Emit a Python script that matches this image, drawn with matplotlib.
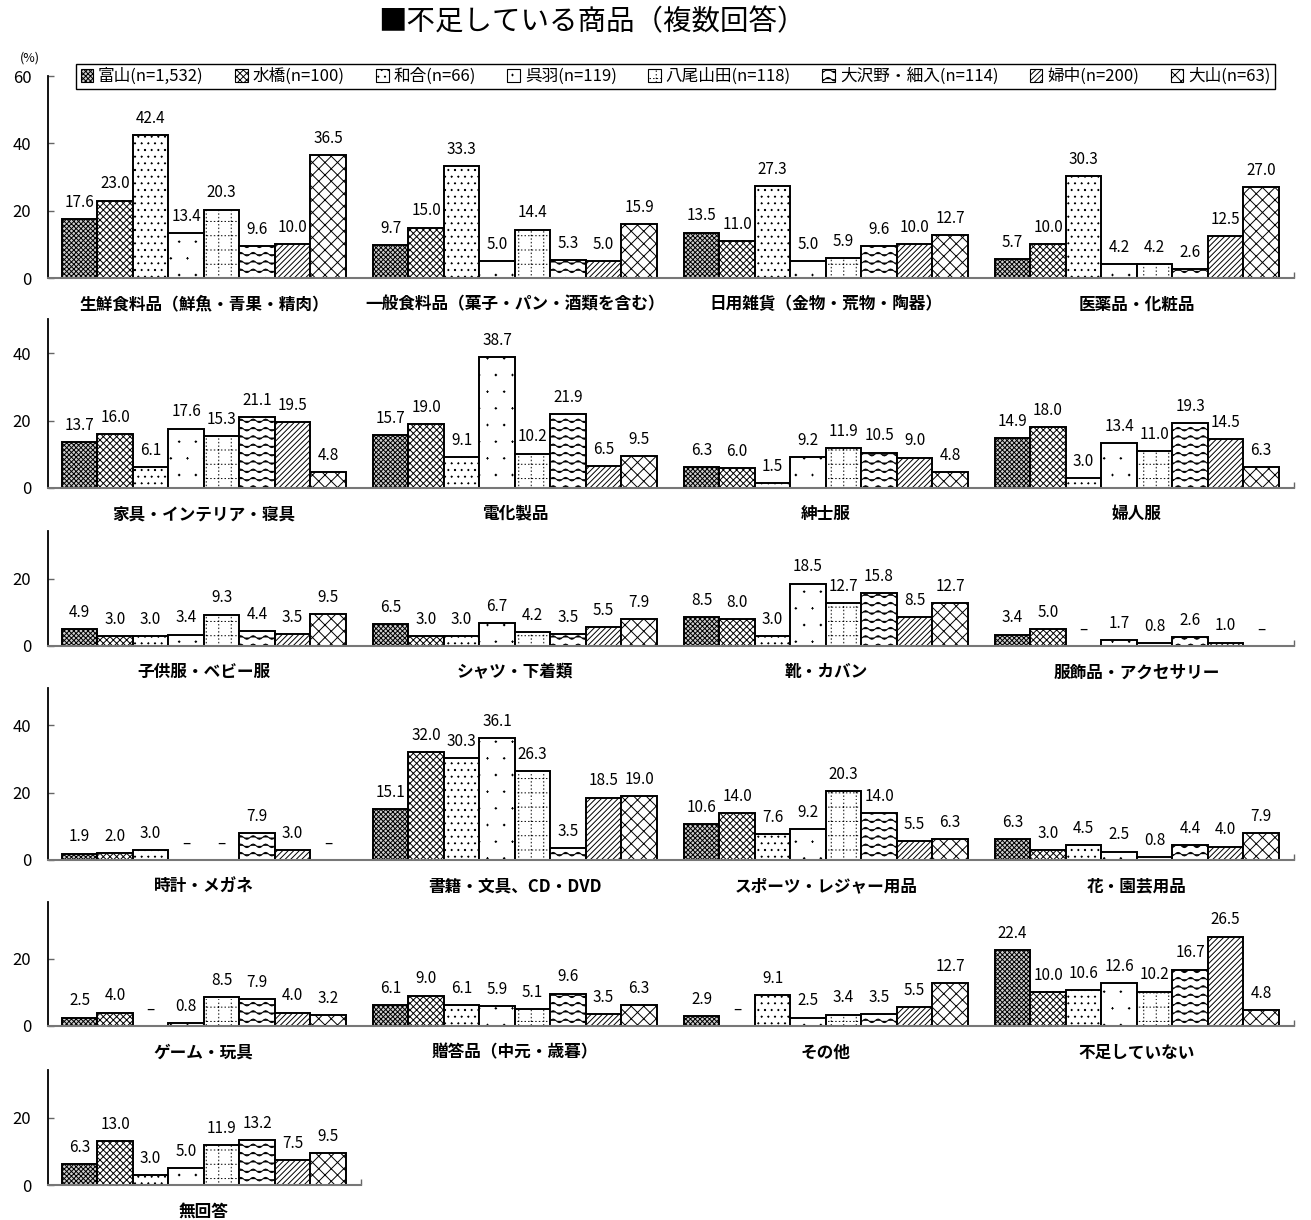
import warnings
import numpy as np
import matplotlib
matplotlib.use('Agg')
import matplotlib.pyplot as plt
import matplotlib.hatch as mhatch
from matplotlib.path import Path
from matplotlib.patches import Patch

warnings.filterwarnings('ignore')

plt.rcParams['font.family'] = ['Noto Sans CJK JP', 'DejaVu Sans']
plt.rcParams['hatch.linewidth'] = 0.7

# ---- data ----
areas = ['富山(n=1,532)', '水橋(n=100)', '和合(n=66)', '呉羽(n=119)',
         '八尾山田(n=118)', '大沢野・細入(n=114)', '婦中(n=200)', '大山(n=63)']

rows = [
    ['生鮮食料品（鮮魚・青果・精肉）', '一般食料品（菓子・パン・酒類を含む）',
     '日用雑貨（金物・荒物・陶器）', '医薬品・化粧品'],
    ['家具・インテリア・寝具', '電化製品', '紳士服', '婦人服'],
    ['子供服・ベビー服', 'シャツ・下着類', '靴・カバン', '服飾品・アクセサリー'],
    ['時計・メガネ', '書籍・文具、CD・DVD', 'スポーツ・レジャー用品', '花・園芸用品'],
    ['ゲーム・玩具', '贈答品（中元・歳暮）', 'その他', '不足していない'],
    ['無回答'],
]

values = {
    '生鮮食料品（鮮魚・青果・精肉）': [17.6, 23.0, 42.4, 13.4, 20.3, 9.6, 10.0, 36.5],
    '一般食料品（菓子・パン・酒類を含む）': [9.7, 15.0, 33.3, 5.0, 14.4, 5.3, 5.0, 15.9],
    '日用雑貨（金物・荒物・陶器）': [13.5, 11.0, 27.3, 5.0, 5.9, 9.6, 10.0, 12.7],
    '医薬品・化粧品': [5.7, 10.0, 30.3, 4.2, 4.2, 2.6, 12.5, 27.0],
    '家具・インテリア・寝具': [13.7, 16.0, 6.1, 17.6, 15.3, 21.1, 19.5, 4.8],
    '電化製品': [15.7, 19.0, 9.1, 38.7, 10.2, 21.9, 6.5, 9.5],
    '紳士服': [6.3, 6.0, 1.5, 9.2, 11.9, 10.5, 9.0, 4.8],
    '婦人服': [14.9, 18.0, 3.0, 13.4, 11.0, 19.3, 14.5, 6.3],
    '子供服・ベビー服': [4.9, 3.0, 3.0, 3.4, 9.3, 4.4, 3.5, 9.5],
    'シャツ・下着類': [6.5, 3.0, 3.0, 6.7, 4.2, 3.5, 5.5, 7.9],
    '靴・カバン': [8.5, 8.0, 3.0, 18.5, 12.7, 15.8, 8.5, 12.7],
    '服飾品・アクセサリー': [3.4, 5.0, None, 1.7, 0.8, 2.6, 1.0, None],
    '時計・メガネ': [1.9, 2.0, 3.0, None, None, 7.9, 3.0, None],
    '書籍・文具、CD・DVD': [15.1, 32.0, 30.3, 36.1, 26.3, 3.5, 18.5, 19.0],
    'スポーツ・レジャー用品': [10.6, 14.0, 7.6, 9.2, 20.3, 14.0, 5.5, 6.3],
    '花・園芸用品': [6.3, 3.0, 4.5, 2.5, 0.8, 4.4, 4.0, 7.9],
    'ゲーム・玩具': [2.5, 4.0, None, 0.8, 8.5, 7.9, 4.0, 3.2],
    '贈答品（中元・歳暮）': [6.1, 9.0, 6.1, 5.9, 5.1, 9.6, 3.5, 6.3],
    'その他': [2.9, None, 9.1, 2.5, 3.4, 3.5, 5.5, 12.7],
    '不足していない': [22.4, 10.0, 10.6, 12.6, 10.2, 16.7, 26.5, 4.8],
    '無回答': [6.3, 13.0, 3.0, 5.0, 11.9, 13.2, 7.5, 9.5],
}

row_ticks = [[0, 20, 40, 60], [0, 20, 40], [0, 20], [0, 20, 40], [0, 20], [0, 20]]


# ---- custom hatches: drawn in a unit tile (one inch) ----
def seg_path(segs):
    v, c = [], []
    for a, b in segs:
        v += [a, b]
        c += [Path.MOVETO, Path.LINETO]
    return np.array(v, float), np.array(c, dtype=Path.code_type)


def wave_lines():
    n, seg = 12, 64
    t = np.linspace(0, 1, seg + 1)
    v, c = [], []
    for i in range(n):
        y0 = (i + 0.5) / n
        v.append(np.column_stack([t, y0 + 0.018 * np.sin(2 * np.pi * 8 * t)]))
        cc = np.full(seg + 1, Path.LINETO, dtype=Path.code_type)
        cc[0] = Path.MOVETO
        c.append(cc)
    return np.vstack(v), np.concatenate(c)


def dotted_grid():
    nx, ny, dots = 8, 7, 28
    segs = []
    for i in range(nx):
        p = (i + 0.5) / nx
        segs += [([p, k / dots], [p, k / dots + 0.005]) for k in range(dots)]
    for i in range(ny):
        p = (i + 0.5) / ny
        segs += [([k / dots, p], [k / dots + 0.005, p]) for k in range(dots)]
    return seg_path(segs)


def dots(n, d=0.007):
    segs = []
    for i in range(n):
        y = (i + 0.5) / n
        off = 0.5 / n if i % 2 else 0.0
        for k in range(n):
            x = (k + 0.25) / n + off
            segs.append(([x - d, y], [x + d, y]))
            segs.append(([x, y - d], [x, y + d]))
    return seg_path(segs)


def open_cross():
    n = 16
    s = np.linspace(-0.5, 0.5, n + 1)
    segs = []
    for d in s:
        segs += [([d, -d], [1 + d, 1 - d]), ([d, 1 + d], [1 + d, d])]
    return seg_path(segs)


CUSTOM = {'w': wave_lines, 'g': dotted_grid, 'k': open_cross,
          'p': lambda: dots(6, 0.008), 'q': lambda: dots(15, 0.006)}


class CustomHatch(mhatch.HatchPatternBase):
    def __init__(self, hatch, density):
        parts = [CUSTOM[ch]() for ch in hatch if ch in CUSTOM]
        if parts:
            self.v = np.vstack([p[0] for p in parts])
            self.c = np.concatenate([p[1] for p in parts])
        else:
            self.v = np.empty((0, 2))
            self.c = np.empty(0, dtype=Path.code_type)
        self.num_vertices = len(self.v)

    def set_vertices_and_codes(self, vertices, codes):
        vertices[:] = self.v
        codes[:] = self.c


mhatch._hatch_types.append(CustomHatch)

styles = [
    dict(facecolor='#cfcfcf', hatch='xxxxxxx'),
    dict(facecolor='white', hatch='xxxxx'),
    dict(facecolor='white', hatch='q'),
    dict(facecolor='white', hatch='p'),
    dict(facecolor='white', hatch='g'),
    dict(facecolor='white', hatch='w'),
    dict(facecolor='white', hatch='//////'),
    dict(facecolor='white', hatch='k'),
]

# ---- layout (pixels) ----
W, H = 1311, 1220
fig = plt.figure(figsize=(W / 100, H / 100), dpi=100)
px_per_unit = 3.375
row_px = [(76, 278), (319, 488), (531, 646), (688, 860), (902, 1026), (1070, 1185)]
pitch = 8.76
x0 = -0.39
left_px = 48
bar_px = 35.5

for r, cats in enumerate(rows):
    top, base = row_px[r]
    xmax = (len(cats) - 1) * pitch + 8 + 0.42
    width_px = (xmax - x0) * bar_px
    ax = fig.add_axes([left_px / W, 1 - base / H, width_px / W, (base - top) / H])
    for g, cat in enumerate(cats):
        vals = values[cat]
        for j, v in enumerate(vals):
            xc = g * pitch + j + 0.5
            h = 0 if v is None else v
            if h > 0:
                ax.bar(xc, h, width=1.0, edgecolor='black', linewidth=1.4,
                       zorder=2, **styles[j])
            label = '–' if v is None else f'{v:.1f}'
            ax.annotate(label, (xc, h), xytext=(0, 12), textcoords='offset points',
                        ha='center', va='center', fontsize=11)
        ax.annotate(cat, (g * pitch + 4, 0), xycoords=('data', 'axes fraction'),
                    xytext=(0, -19), textcoords='offset points',
                    ha='center', va='center', fontsize=12, fontweight='bold')
    ax.set_xlim(x0, xmax)
    ax.set_ylim(0, (base - top) / px_per_unit)
    ax.set_yticks(row_ticks[r])
    ax.tick_params(axis='y', direction='in', length=4, width=1, color='#666666',
                   pad=12, labelsize=12)
    ax.set_xticks([xmax])
    ax.set_xticklabels([])
    ax.tick_params(axis='x', direction='in', length=4, width=1, color='#666666')
    for s in ['top', 'right']:
        ax.spines[s].set_visible(False)
    ax.spines['left'].set_linewidth(1.3)
    ax.spines['bottom'].set_color('#777777')
    ax.spines['bottom'].set_linewidth(1.5)
    ax.set_facecolor('none')

# legend
handles = [Patch(edgecolor='black', linewidth=0.8, **st) for st in styles]
leg = fig.legend(handles, areas, ncol=8, loc='center', mode='expand',
                 bbox_to_anchor=(68 / W, 1 - 90 / H, 1215 / W, 27 / H),
                 fontsize=12, handlelength=0.75, handleheight=0.75,
                 handletextpad=0.3, columnspacing=0.5, borderpad=0.25,
                 fancybox=False, edgecolor='black', framealpha=1)
leg.get_frame().set_linewidth(1.0)

fig.text(30 / W, 1 - 58 / H, '(%)', fontsize=9, ha='center', va='center')
fig.text(592 / W, 1 - 22 / H, '■不足している商品（複数回答）', fontsize=20.5,
         ha='center', va='center')

fig.savefig('out.png', dpi=100)
